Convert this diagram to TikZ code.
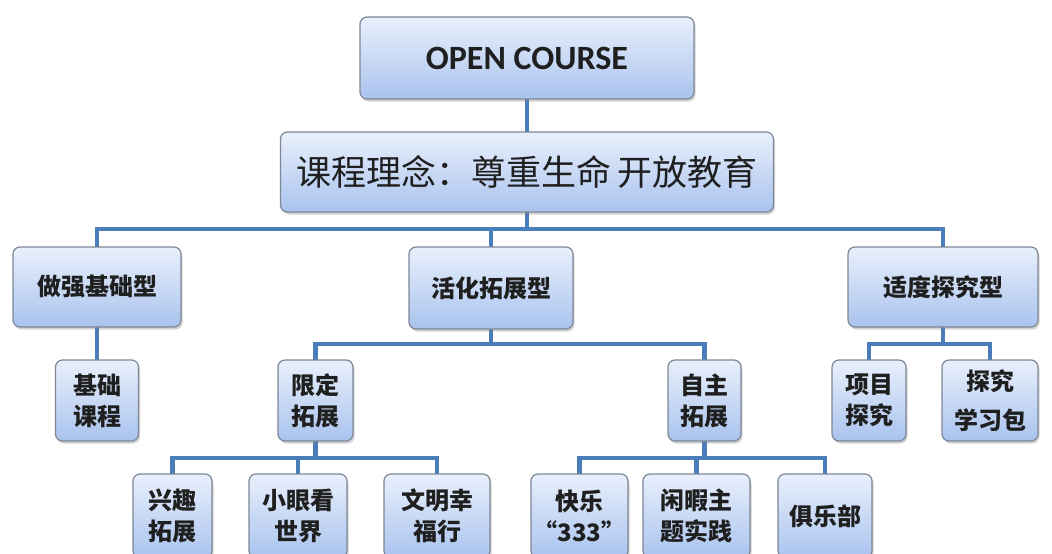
\documentclass[tikz,border=0pt]{standalone}
\usepackage{fontspec}
\newfontfamily\cjk{Noto Sans CJK SC}
\newfontfamily\latinb{Carlito}
\usetikzlibrary{shadows,backgrounds}
\definecolor{boxtop}{HTML}{E9F0FC}
\definecolor{boxbot}{HTML}{A9C3EE}
\definecolor{boxline}{HTML}{7D8796}
\definecolor{linkblue}{HTML}{4A7EBB}
\tikzset{
	box/.style={draw=boxline, line width=1.2pt, rounded corners=7pt,
		top color=boxtop, bottom color=boxbot, inner sep=0pt, align=center,
		text=black!88, drop shadow={shadow xshift=1.5pt, shadow yshift=-2.5pt, opacity=0.35}},
	link/.style={draw=linkblue, line width=4.5pt, line cap=rect},
	small/.style={font=\cjk\bfseries\fontsize{24}{31}\selectfont},
}

\begin{document}
\begin{tikzpicture}[x=1pt, y=-1pt]
			%%%%% START %%%%%
			\useasboundingbox (0,0) rectangle (1052,554);
			
			\coordinate (bar1) at (0,229);
			\coordinate (bar2) at (0,344);
			\coordinate (bar3) at (0,458);
			
			\node[box, minimum width=334pt, minimum height=82pt, font=\latinb\bfseries\fontsize{34}{40}\selectfont] (open) at (527,58) {OPEN COURSE};
			\node[box, minimum width=493pt, minimum height=80pt, font=\cjk\fontsize{35}{40}\selectfont] (idea) at (527,172) {课程理念：尊重生命\hspace{0.2em}开放教育};
			
			\node[box, small, minimum width=168pt, minimum height=80pt] (jc) at (97,287) {做强基础型};
			\node[box, small, minimum width=164pt, minimum height=82pt] (hh) at (491,288) {活化拓展型};
			\node[box, small, minimum width=190pt, minimum height=80pt] (sd) at (943,287) {适度探究型};
			
			\node[box, small, minimum width=83pt, minimum height=81pt] (jckc) at (97,400.5) {基础\\课程};
			\node[box, small, minimum width=75pt, minimum height=81pt] (xd) at (315.5,400.5) {限定\\拓展};
			\node[box, small, minimum width=73pt, minimum height=81pt] (zz) at (704.5,400.5) {自主\\拓展};
			\node[box, small, minimum width=74pt, minimum height=81pt] (xm) at (869,400.5) {项目\\探究};
			\node[box, small, minimum width=96pt, minimum height=81pt] (tj) at (990,400.5) {探究\\[8pt]学习包};
			
			\node[box, small, minimum width=79pt, minimum height=84pt] (xq) at (172.5,516) {兴趣\\拓展};
			\node[box, small, minimum width=98pt, minimum height=84pt] (xy) at (298,516) {小眼看\\世界};
			\node[box, small, minimum width=106pt, minimum height=84pt] (wm) at (437,516) {文明幸\\福行};
			\node[box, small, minimum width=97pt, minimum height=84pt] (kl) at (579.5,516) {快乐\\“333”};
			\node[box, small, minimum width=107pt, minimum height=84pt] (xx) at (696.5,516) {闲暇主\\题实践};
			\node[box, small, minimum width=94pt, minimum height=84pt] (jl) at (825,516) {俱乐部};
			
			\begin{scope}[on background layer]
			\draw[link] (open) -- (idea);
			\draw[link] (idea.south) -- (idea.south |- bar1) -| (jc.north);
			\draw[link] (idea.south |- bar1) -| (hh.north);
			\draw[link] (idea.south |- bar1) -| (sd.north);
			
			\draw[link] (jc) -- (jckc);
			\draw[link] (hh.south) -- (hh.south |- bar2) -| (xd.north);
			\draw[link] (hh.south |- bar2) -| (zz.north);
			\draw[link] (sd.south) -- (sd.south |- bar2) -| (xm.north);
			\draw[link] (sd.south |- bar2) -| (tj.north);
			
			\draw[link] (xd.south) -- (xd.south |- bar3) -| (xq.north);
			\draw[link] (xd.south |- bar3) -| (xy.north);
			\draw[link] (xd.south |- bar3) -| (wm.north);
			\draw[link] (zz.south) -- (zz.south |- bar3) -| (kl.north);
			\draw[link] (zz.south |- bar3) -| (xx.north);
			\draw[link] (zz.south |- bar3) -| (jl.north);
			\end{scope}
			%%%%% END %%%%%
\end{tikzpicture}
\end{document}
